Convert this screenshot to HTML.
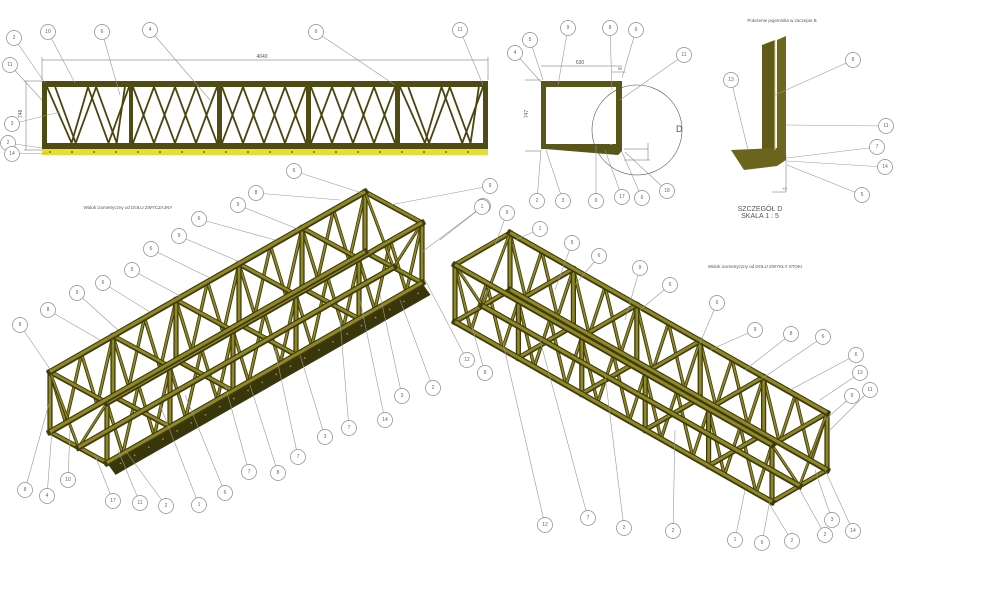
<!DOCTYPE html>
<html><head><meta charset="utf-8">
<style>
html,body{margin:0;padding:0;background:#fff;width:1000px;height:598px;overflow:hidden}
svg{display:block}
text{font-family:"Liberation Sans",sans-serif;fill:#555}
.c{fill:#fff;stroke:#888;stroke-width:0.7}
.l{stroke:#999;stroke-width:0.6;fill:none}
.n{font-size:5px;text-anchor:middle;dominant-baseline:central;fill:#666}
</style></head><body>
<svg id="s" width="1000" height="598" viewBox="0 0 1000 598" xmlns="http://www.w3.org/2000/svg">
<g>
<line x1="42" y1="60" x2="488" y2="60" stroke="#666" stroke-width="0.6"/>
<line x1="42" y1="57" x2="42" y2="80" stroke="#666" stroke-width="0.5"/>
<line x1="488" y1="57" x2="488" y2="80" stroke="#666" stroke-width="0.5"/>
<text x="262" y="58" font-size="5" text-anchor="middle">4040</text>
<line x1="26" y1="81" x2="26" y2="150" stroke="#666" stroke-width="0.5"/>
<line x1="24" y1="81" x2="42" y2="81" stroke="#666" stroke-width="0.5"/>
<line x1="24" y1="150" x2="42" y2="150" stroke="#666" stroke-width="0.5"/>
<text x="22" y="118" font-size="5" transform="rotate(-90 22 118)">748</text>
<rect x="42" y="149" width="446" height="6" fill="#e4de34"/>
<rect x="42" y="81" width="446" height="68" fill="#4f4b12"/>
<rect x="47" y="87" width="82" height="56" fill="#fff"/>
<rect x="133" y="87" width="84" height="56" fill="#fff"/>
<rect x="222" y="87" width="84" height="56" fill="#fff"/>
<rect x="311" y="87" width="84" height="56" fill="#fff"/>
<rect x="400" y="87" width="83" height="56" fill="#fff"/>
<g id="diag" stroke="#4a4510" stroke-width="1.8"></g>
<g id="dots" fill="#4f4b12"></g>
</g>
<g>
<line x1="541" y1="66" x2="622" y2="66" stroke="#666" stroke-width="0.5"/>
<text x="580" y="64" font-size="5" text-anchor="middle">630</text>
<line x1="612" y1="72" x2="626" y2="72" stroke="#666" stroke-width="0.5"/>
<text x="620" y="70" font-size="4" text-anchor="middle">50</text>
<text x="528" y="118" font-size="5" transform="rotate(-90 528 118)">747</text>
<line x1="525" y1="80" x2="541" y2="80" stroke="#666" stroke-width="0.5"/>
<line x1="525" y1="151" x2="541" y2="151" stroke="#666" stroke-width="0.5"/>
<polygon points="541,81 622,81 622,151 618,155 545,149 541,149" fill="#5a5518"/>
<rect x="546" y="87" width="70" height="57" fill="#fff"/>
<line x1="611" y1="87" x2="611" y2="145" stroke="#fff" stroke-width="0.8"/>
<circle cx="637" cy="130" r="45" fill="none" stroke="#555" stroke-width="0.6"/>
<text x="676" y="132" font-size="9" fill="#333">D</text>
<line x1="624" y1="149" x2="648" y2="149" stroke="#666" stroke-width="0.5"/>
<line x1="624" y1="160" x2="650" y2="160" stroke="#666" stroke-width="0.5"/>
<line x1="648" y1="143" x2="648" y2="160" stroke="#666" stroke-width="0.5"/>
</g>
<g>
<text x="782" y="22" font-size="4.5" text-anchor="middle">Położenie pojemnika w zaczepie B</text>
<polygon points="762,45 775,40 775,150 762,152" fill="#615b1a"/>
<polygon points="777,40 786,36 786,155 777,155" fill="#6e681f"/>
<polygon points="731,150 777,148 786,155 786,160 777,166 744,170" fill="#6a641c"/>
<line x1="775" y1="40" x2="775" y2="150" stroke="#d8d070" stroke-width="1"/>
<line x1="786" y1="155" x2="786" y2="192" stroke="#666" stroke-width="0.5"/>
<line x1="772" y1="192" x2="786" y2="192" stroke="#666" stroke-width="0.5"/>
<text x="782" y="190" font-size="4">+3</text>
<text x="760" y="211" font-size="7" text-anchor="middle" fill="#444">SZCZEGÓŁ D</text>
<text x="760" y="218" font-size="7" text-anchor="middle" fill="#444">SKALA 1 : 5</text>
</g>
<text x="128" y="209" font-size="4.5" text-anchor="middle">Widok izometryczny od DOŁU ZWYCZAJNY</text>
<text x="755" y="268" font-size="4.5" text-anchor="middle">Widok izometryczny od DOŁU ZWYKŁY STOKI</text>
<g id="iso"></g>
<g id="call"></g>
</svg>
<script>
var NS="http://www.w3.org/2000/svg";
function el(p,t,a){var e=document.createElementNS(NS,t);for(var k in a)e.setAttribute(k,a[k]);p.appendChild(e);return e;}
var d=document.getElementById('diag');
var xs=[47,133,222,311,400],ws=[82,84,84,84,83];
for(var i=0;i<5;i++){var x=xs[i],w=ws[i];
 var pts=[[0,0,.3,1],[.3,1,.5,0],[.5,0,.75,1],[.75,1,1,0],[.1,0,.35,1],[.35,1,.6,0],[.6,0,.85,1],[.85,1,.95,0]];
 if(i==1||i==2||i==3)pts=[[0,0,.25,1],[.25,1,.5,0],[.5,0,.75,1],[.75,1,1,0],[0,1,.25,0],[.25,0,.5,1],[.5,1,.75,0],[.75,0,1,1]];
 pts.forEach(function(p){el(d,'line',{x1:x+p[0]*w,y1:87+p[1]*56,x2:x+p[2]*w,y2:87+p[3]*56});});}
var dt=document.getElementById('dots');
for(var x=50;x<488;x+=22)el(dt,'circle',{cx:x,cy:152,r:0.9});
var iso=document.getElementById('iso');
function P(o,L,W,H,a,b,c){return [o[0]+L[0]*a+W[0]*b+H[0]*c,o[1]+L[1]*a+W[1]*b+H[1]*c];}
function bar(p,q,w){w=w||5.2;el(iso,'line',{x1:p[0],y1:p[1],x2:q[0],y2:q[1],stroke:'#3f3b0c','stroke-width':w,'stroke-linecap':'square'});
 el(iso,'line',{x1:p[0],y1:p[1]-0.4,x2:q[0],y2:q[1]-0.4,stroke:'#8f8826','stroke-width':w*0.5});}
function truss(o,L,W,H,plate){
 var f=function(a,b,c){return P(o,L,W,H,a,b,c);};
 if(plate){var q=[f(0,1,1),f(1,1,1),f(1,1.15,1.12),f(0,1.15,1.12)];
  el(iso,'polygon',{points:q.map(function(p){return p.join(',')}).join(' '),fill:'#3a360c'});
  for(var t=0.03;t<1;t+=0.045){var p=f(t,1.07,1.06);el(iso,'circle',{cx:p[0],cy:p[1],r:0.8,fill:'#a8a040'});}}
 [0,1].forEach(function(b){
  for(var i=0;i<5;i++){var a0=i/5,s=0.2;
   [[0,0,.25,1],[.25,1,.5,0],[.5,0,.75,1],[.75,1,1,0]].forEach(function(k){
    bar(f(a0+k[0]*s,b,k[1]),f(a0+k[2]*s,b,k[3]),3.4);});}
 });
 for(var i=0;i<=5;i++){var a=i/5;
  bar(f(a,0,0),f(a,0,1));bar(f(a,1,0),f(a,1,1));
  bar(f(a,0,0),f(a,1,0));bar(f(a,0,1),f(a,1,1));}
 [0,1].forEach(function(a){bar(f(a,0,0),f(a,.5,1),3);bar(f(a,.5,1),f(a,1,0),3);});
 bar(f(0,0,0),f(1,0,0),6);bar(f(0,1,0),f(1,1,0),6);bar(f(0,0,1),f(1,0,1),6);bar(f(0,1,1),f(1,1,1),6);
 bar(f(0,.5,1),f(1,.5,1),6);
}
truss([50,372],[315,-180],[57,31],[0,60],true);
truss([455,265],[317,180],[55,-32],[0,57],false);
var cg=document.getElementById('call');
var C=[
[14,38,"2",45,83],[48,32,"10",75,83],[102,32,"6",120,95],[150,30,"4",210,100],[316,32,"6",395,85],[460,30,"11",483,85],[10,65,"11",42,100],[12,124,"3",60,112],[8,143,"2",42,148],[12,154,"14",48,153],
[515,53,"4",541,82],[530,40,"5",543,80],[568,28,"9",558,85],[610,28,"8",612,90],[636,30,"6",622,78],[684,55,"11",620,100],[537,201,"2",541,150],[563,201,"3",546,150],[596,201,"9",596,145],[622,197,"17",605,150],[642,198,"6",622,152],[667,191,"18",625,152],
[731,80,"13",748,150],[853,60,"8",775,95],[886,126,"11",786,125],[877,147,"7",787,158],[885,167,"14",787,161],[862,195,"5",787,165],
[294,171,"6",365,194],[256,193,"8",340,200],[238,205,"9",300,230],[199,219,"6",275,240],[179,236,"9",240,262],[151,249,"6",210,278],[132,270,"5",180,296],[103,283,"6",150,312],[77,293,"9",118,330],[48,310,"8",100,340],[20,325,"8",52,372],[490,186,"9",390,205],[483,206,"1",422,252],
[433,388,"2",400,300],[402,396,"3",380,295],[385,420,"14",360,300],[349,428,"7",340,320],[325,437,"3",300,355],[298,457,"7",275,350],[278,473,"8",250,385],[249,472,"7",225,385],[225,493,"6",185,395],[199,505,"1",160,405],[166,506,"2",125,450],[140,503,"11",118,450],[113,501,"17",95,455],[68,480,"10",70,430],[47,496,"4",52,430],[25,490,"8",50,400],
[467,360,"12",425,280],[485,373,"8",470,320],
[482,207,"1",440,240],[507,213,"9",495,245],[540,229,"1",515,240],[572,243,"5",555,290],[599,256,"6",575,285],[640,268,"9",625,320],[670,285,"6",640,310],[717,303,"6",695,355],[755,330,"9",710,350],[791,334,"8",745,370],[823,337,"6",760,380],[856,355,"6",790,390],[860,373,"13",820,400],[852,396,"9",825,420],[870,390,"11",830,430],
[545,525,"12",500,330],[588,518,"7",540,340],[624,528,"2",605,375],[673,531,"2",675,430],[735,540,"1",745,490],[762,543,"6",770,500],[792,541,"2",770,505],[825,535,"2",800,490],[832,520,"3",815,470],[853,531,"14",825,470]
];
C.forEach(function(c){el(cg,'line',{x1:c[0],y1:c[1],x2:c[3],y2:c[4],'class':'l'});});
C.forEach(function(c){el(cg,'circle',{cx:c[0],cy:c[1],r:7.5,'class':'c'});var t=el(cg,'text',{x:c[0],y:c[1],'class':'n'});t.textContent=c[2];});
</script>
</body></html>
